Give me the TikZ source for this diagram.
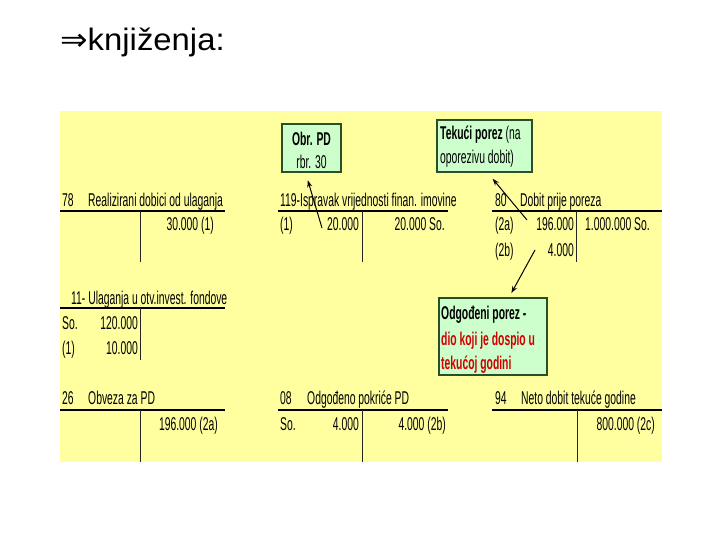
\documentclass[tikz,border=0pt]{standalone}
\usepackage{fontspec}
\setmainfont{Liberation Sans}
\newfontfamily\nar[FakeStretch=0.56]{Liberation Sans}
\newfontfamily\wide[FakeStretch=1.06]{Liberation Sans}
\newfontfamily\dejavu[FakeStretch=1.06]{DejaVu Sans}
\usetikzlibrary{arrows.meta,calc}
\definecolor{bgyellow}{RGB}{255,255,160}
\definecolor{boxgreen}{RGB}{204,255,204}
\definecolor{boxborder}{RGB}{40,80,40}
\definecolor{redtxt}{RGB}{210,0,0}
\begin{document}
\begin{tikzpicture}[x=1pt,y=-1pt,
  lbl/.style={font=\nar\fontsize{18.5}{20}\selectfont, inner sep=0pt},
  ll/.style={lbl, anchor=base west},
  rl/.style={lbl, anchor=base east},
  cl/.style={lbl, anchor=base},
  bl/.style={font=\nar\bfseries\fontsize{18.5}{20}\selectfont},
  tline/.style={line width=1.8pt},
  vline/.style={line width=0.8pt, draw=black!85},
  gbox/.style={draw=boxborder, fill=boxgreen, line width=1.2pt, inner sep=0pt},
  arr/.style={-{Stealth[length=7pt,width=5pt]}, line width=1pt}]
\useasboundingbox (0,0) rectangle (720,540);
\fill[white] (0,0) rectangle (720,540);
\fill[bgyellow] (60,111) rectangle (662,462);

% title
\node[anchor=base west, inner sep=0pt, font=\wide\fontsize{31}{34}\selectfont] (title) at (60,51) {{\dejavu ⇒}knjiženja:};

% boxes
\node[gbox, minimum width=59, minimum height=48] (obr) at (311.5,148) {};
\node[cl, bl] (obr1) at (311.5,145.5) {Obr. PD};
\node[cl] (obr2) at (311.5,168.5) {rbr. 30};

\node[gbox, minimum width=95, minimum height=52] (tek) at (484.5,146) {};
\node[ll] (tek1) at (440,139.5) {\textbf{Tekući porez} (na};
\node[ll] (tek2) at (440,163.5) {oporezivu dobit)};

\node[gbox, minimum width=108, minimum height=77] (odg) at (493,336.5) {};
\node[ll, bl] (odg1) at (441,319.5) {Odgođeni porez -};
\node[ll, bl, text=redtxt] (odg2) at (441,345.5) {dio koji je dospio u};
\node[ll, bl, text=redtxt] (odg3) at (441,369.5) {tekućoj godini};

% account 78
\node[ll] (a78n) at (62,206.5) {78};
\node[ll] (a78t) at (88,206.5) {Realizirani dobici od ulaganja};
\draw[tline] (60,211) -- (225,211);
\draw[vline] (140,211) -- (140,262);
\node[rl] (a78c1) at (214,230.5) {30.000 (1)};

% account 119
\node[ll] (a119t) at (280,206.5) {119-Ispravak vrijednosti finan. imovine};
\draw[tline] (278,211) -- (448,211);
\draw[vline] (362,211) -- (362,262);
\node[ll] (a119d1) at (280,230.5) {(1)};
\node[rl] (a119d1v) at (359,230.5) {20.000};
\node[rl] (a119c1) at (445,230.5) {20.000 So.};

% account 80
\node[ll] (a80n) at (495,206.5) {80};
\node[ll] (a80t) at (520,206.5) {Dobit prije poreza};
\draw[tline] (492,211) -- (662,211);
\draw[vline] (576,211) -- (576,262);
\node[ll] (a80d1) at (495,230.5) {(2a)};
\node[rl] (a80d1v) at (574,230.5) {196.000};
\node[ll] (a80c1) at (585,230.5) {1.000.000 So.};
\node[ll] (a80d2) at (495,256.5) {(2b)};
\node[rl] (a80d2v) at (574,256.5) {4.000};

% account 11
\node[ll] (a11t) at (71,304) {11- Ulaganja u otv.invest. fondove};
\draw[tline] (60,308) -- (225,308);
\draw[vline] (140,308) -- (140,360);
\node[ll] (a11d1) at (62,329.5) {So.};
\node[rl] (a11d1v) at (138,329.5) {120.000};
\node[ll] (a11d2) at (62,354.5) {(1)};
\node[rl] (a11d2v) at (138,354.5) {10.000};

% account 26
\node[ll] (a26n) at (62,404.5) {26};
\node[ll] (a26t) at (88,404.5) {Obveza za PD};
\draw[tline] (60,410) -- (225,410);
\draw[vline] (140,410) -- (140,462);
\node[rl] (a26c1) at (218,430.5) {196.000 (2a)};

% account 08
\node[ll] (a08n) at (280,404.5) {08};
\node[ll] (a08t) at (307,404.5) {Odgođeno pokriće PD};
\draw[tline] (278,410) -- (448,410);
\draw[vline] (362,410) -- (362,462);
\node[ll] (a08d1) at (280,430.5) {So.};
\node[rl] (a08d1v) at (359,430.5) {4.000};
\node[rl] (a08c1) at (446,430.5) {4.000 (2b)};

% account 94
\node[ll] (a94n) at (495,404.5) {94};
\node[ll] (a94t) at (521,404.5) {Neto dobit tekuće godine};
\draw[tline] (492,410) -- (662,410);
\draw[vline] (577,410) -- (577,462);
\node[rl] (a94c1) at (655,430.5) {800.000 (2c)};

% arrows
\coordinate (t1) at (322,228);
\coordinate (t2) at (527,220);
\coordinate (t3) at (535,250);
\draw[arr, shorten >=8pt] (t1) -- ($(obr.south)+(-6,0)$);
\draw[arr, shorten >=8pt] (t2) -- ($(tek.south)+(3,0)$);
\draw[arr, shorten >=5pt] (t3) -- ($(odg.north)+(16,0)$);
\end{tikzpicture}
\end{document}
